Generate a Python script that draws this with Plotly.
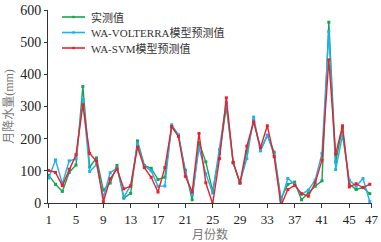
import plotly.graph_objects as go

months = list(range(1, 49))
observed = [86, 58, 36, 95, 118, 362, 112, 140, 40, 62, 117, 15, 30, 193, 117, 108,
            73, 80, 237, 208, 102, 10, 188, 128, 37, 154, 299, 127, 62, 160, 257, 164,
            210, 158, 14, 58, 65, 10, 31, 52, 69, 562, 128, 234, 59, 42, 48, 29]
volterra = [78, 134, 60, 131, 137, 322, 98, 120, 18, 94, 108, 18, 55, 186, 115, 100,
            52, 53, 243, 212, 94, 24, 172, 91, 31, 166, 313, 124, 64, 138, 267, 162,
            211, 150, 6, 76, 58, 27, 40, 71, 154, 533, 104, 210, 71, 52, 76, 4]
svm = [101, 95, 54, 105, 150, 305, 154, 130, 4, 75, 106, 44, 52, 174, 110, 80,
       34, 110, 238, 207, 83, 34, 216, 63, -3, 138, 327, 126, 62, 177, 252, 172,
       240, 144, -8, 42, 55, 29, 21, 62, 133, 445, 152, 240, 50, 60, 48, 58]

series_names = ["实测值", "WA-VOLTERRA模型预测值", "WA-SVM模型预测值"]
series_colors = ["#14a552", "#1db1ee", "#f01e2c"]

x_tick_vals = [1, 5, 9, 13, 17, 21, 25, 29, 33, 37, 41, 45, 48.25]
x_tick_text = ["1", "5", "9", "13", "17", "21", "25", "29", "33", "37", "41", "45", "47"]
y_tick_vals = [0, 100, 200, 300, 400, 500, 600]

FONT = "Liberation Serif, Times New Roman, Noto Sans CJK SC, serif"

W, H = 381, 242
ML, MR, MT, MB = 48, 9, 10, 39
PW, PH = W - ML - MR, H - MT - MB


def px_x(px):
    return (px - ML) / PW


def px_y(py):
    return (H - MB - py) / PH


fig = go.Figure()
for name, vals, col in zip(series_names, [observed, volterra, svm], series_colors):
    fig.add_trace(go.Scatter(
        x=months, y=vals, name=name, mode="lines+markers",
        line=dict(color=col, width=1.4),
        marker=dict(color=col, size=3, symbol="square"),
        showlegend=False,
    ))

# custom legend (compact rows like the reference)
shapes = []
annotations = []
row_y = [17, 32.5, 48]
for i, (name, col) in enumerate(zip(series_names, series_colors)):
    yy = px_y(row_y[i])
    shapes.append(dict(type="line", xref="paper", yref="paper",
                       x0=px_x(62), x1=px_x(85), y0=yy, y1=yy,
                       line=dict(color=col, width=1.6)))
    shapes.append(dict(type="rect", xref="paper", yref="paper",
                       x0=px_x(72.3), x1=px_x(74.7), y0=yy - 1.2 / PH, y1=yy + 1.2 / PH,
                       line=dict(width=0), fillcolor=col))
    annotations.append(dict(text=name, xref="paper", yref="paper",
                            x=px_x(89), y=yy, xanchor="left", yanchor="middle",
                            showarrow=False,
                            font=dict(family=FONT, size=11, color="#333")))

fig.update_layout(
    width=W, height=H,
    margin=dict(l=ML, r=MR, t=MT, b=MB, autoexpand=False),
    paper_bgcolor="white", plot_bgcolor="white",
    font=dict(family=FONT, size=12, color="#222"),
    showlegend=False,
    shapes=shapes, annotations=annotations,
)
fig.update_xaxes(
    range=[0.9, 48.32], tickmode="array", tickvals=x_tick_vals, ticktext=x_tick_text,
    showline=True, linecolor="#333", linewidth=1, ticks="outside", ticklen=4,
    tickcolor="#333", showgrid=False, zeroline=False, automargin=False,
    tickfont=dict(family=FONT, size=13, color="#222"),
    title=dict(text="月份数", font=dict(family=FONT, size=12, color="#777"), standoff=6),
)
fig.update_yaxes(
    range=[0, 600], tickmode="array", tickvals=y_tick_vals,
    showline=True, linecolor="#333", linewidth=1, ticks="outside", ticklen=3,
    tickcolor="#333", showgrid=False, zeroline=False, automargin=False,
    tickfont=dict(family=FONT, size=14, color="#222"),
    title=dict(text="月降水量(mm)", font=dict(family=FONT, size=12, color="#777"), standoff=4),
)

fig.write_html(
    "out.html",
    config={"displayModeBar": False, "staticPlot": True},
    post_script="document.body.style.margin='0px';document.body.style.overflow='hidden';",
)
